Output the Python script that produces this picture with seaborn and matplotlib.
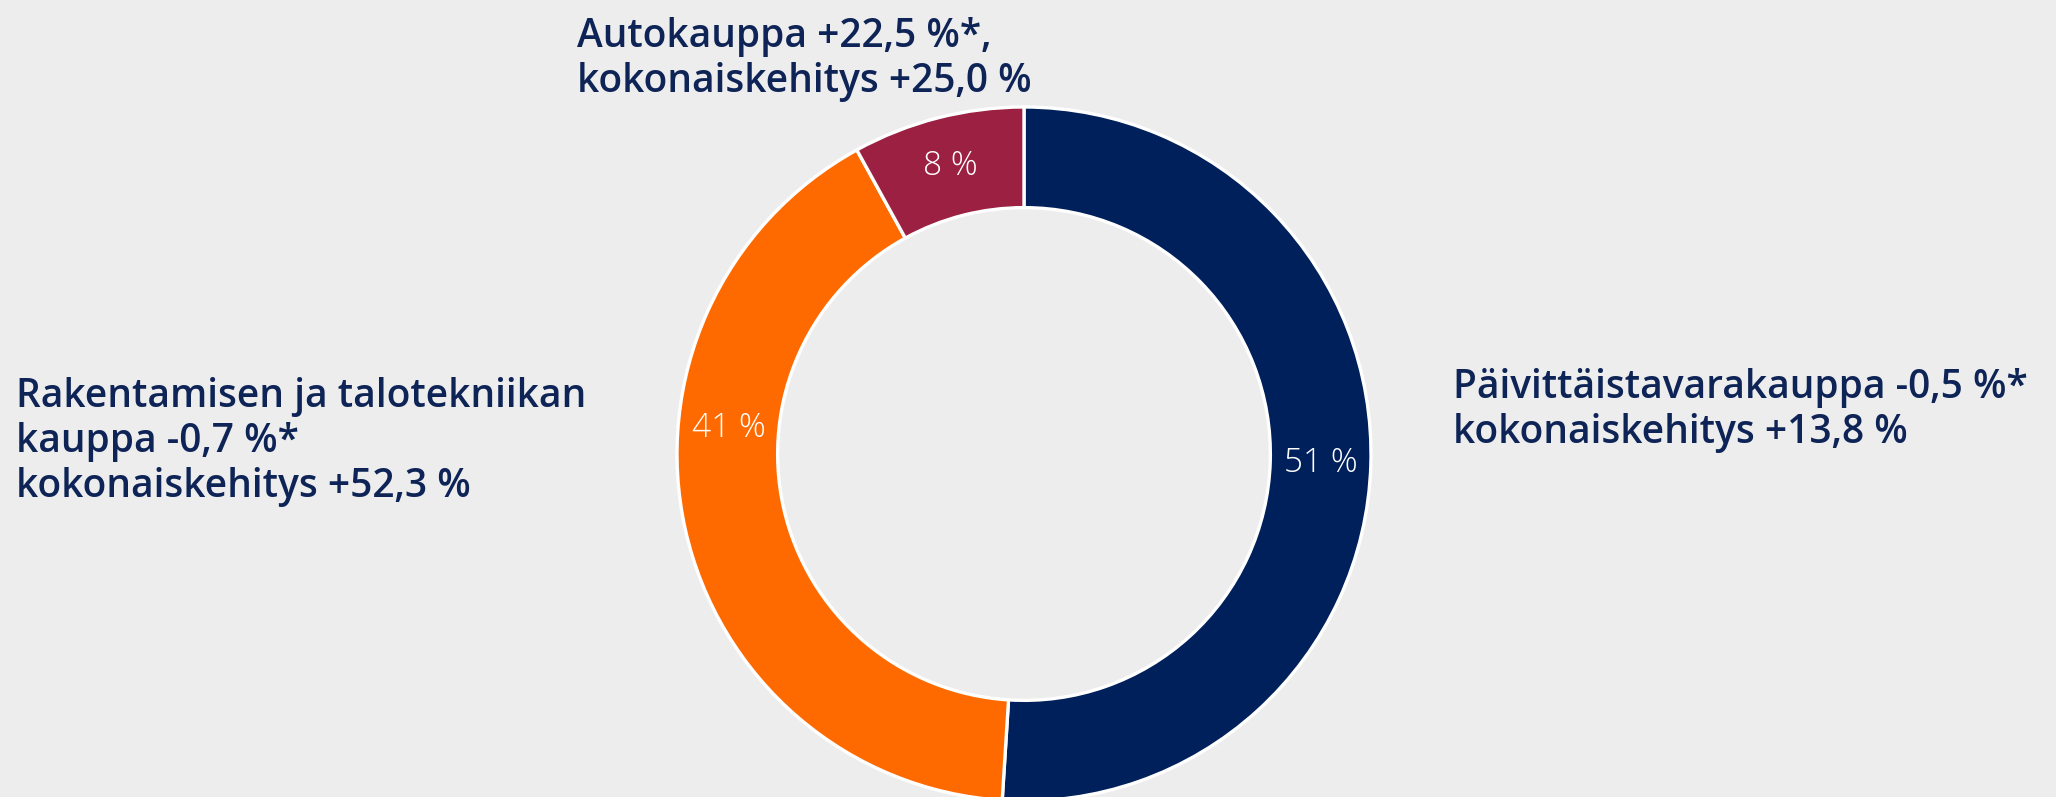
import numpy as np
import matplotlib.pyplot as plt
import seaborn as sns

# osuudet (%), järjestys myötäpäivään klo 12:sta alkaen
segments = ["Päivittäistavarakauppa", "Rakentamisen ja talotekniikan kauppa", "Autokauppa"]
shares = [51, 41, 8]
share_labels = ["51 %", "41 %", "8 %"]
colors = ["#00205B", "#FF6A00", "#9B2042"]
descriptions = [
    "Päivittäistavarakauppa -0,5 %*\nkokonaiskehitys +13,8 %",
    "Rakentamisen ja talotekniikan\nkauppa -0,7 %*\nkokonaiskehitys +52,3 %",
    "Autokauppa +22,5 %*,\nkokonaiskehitys +25,0 %",
]

bg = "#EDEDED"
navy = "#0E2457"

sns.set_theme(style="white", rc={"figure.facecolor": bg, "axes.facecolor": bg})
plt.rcParams["font.family"] = ["Open Sans", "DejaVu Sans"]

W, H = 2056, 797
fig = plt.figure(figsize=(W / 100, H / 100), dpi=100)

# donitsin sijainti pikseleinä
cx, cy, r = 1024, 454, 347
ax = fig.add_axes([(cx - r) / W, 1 - (cy + r) / H, 2 * r / W, 2 * r / H])
ax.set_facecolor(bg)

wedges, _ = ax.pie(shares, colors=colors, startangle=90, counterclock=False,
                   radius=1, wedgeprops=dict(width=0.29, edgecolor="white", linewidth=2.4))
ax.set_xlim(-1, 1)
ax.set_ylim(-1, 1)
ax.set_aspect("equal")
ax.axis("off")

# prosenttitekstit renkaan keskelle
label_r = 0.855
for w, txt, name in zip(wedges, share_labels, segments):
    ang = (w.theta1 + w.theta2) / 2
    if name.startswith("Rakent"):
        ang = 175  # alkuperäisessä hieman ylempänä
    a = np.deg2rad(ang)
    ax.text(label_r * np.cos(a), label_r * np.sin(a), txt, ha="center", va="center",
            color="white", fontsize=24, fontweight="light")

# selitetekstit (x, viimeisen rivin peruslinja)
pos = [(1453, 443), (16, 497), (577, 92)]
for (x, y), d in zip(pos, descriptions):
    fig.text(x / W, 1 - y / H, d, ha="left", va="baseline", color=navy,
             fontsize=28, fontweight="semibold", linespacing=1.17)

fig.savefig("out.png", dpi=100, facecolor=bg)
